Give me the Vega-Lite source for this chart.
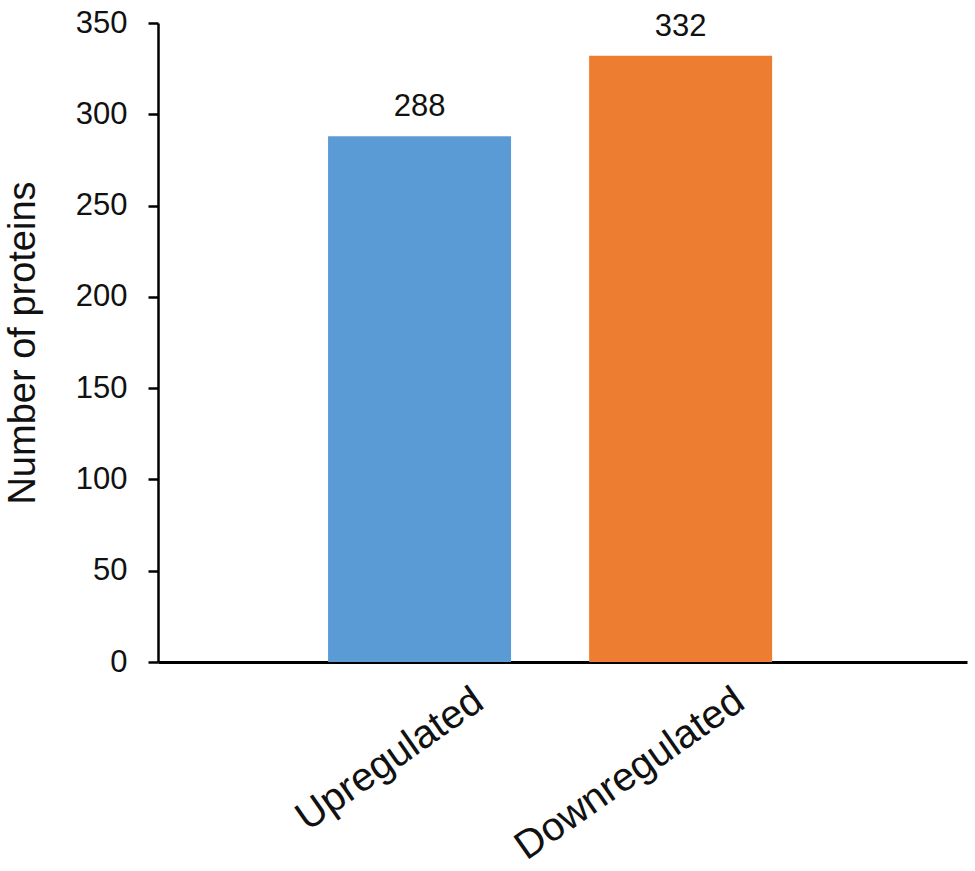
{
  "$schema": "https://vega.github.io/schema/vega-lite/v6.json",
  "autosize": {"type": "none"},
  "width": 809,
  "height": 639,
  "padding": {"left": 158, "top": 23, "right": 8, "bottom": 209},
  "background": "white",
  "config": {
    "view": {"stroke": null},
    "font": "Liberation Sans"
  },
  "data": {
    "values": [
      {"category": "Upregulated", "count": 288},
      {"category": "Downregulated", "count": 332}
    ]
  },
  "encoding": {
    "x": {
      "field": "category",
      "type": "nominal",
      "sort": null,
      "scale": {"paddingInner": 0.299, "paddingOuter": 0.699, "align": 0.466},
      "axis": {
        "title": null,
        "ticks": false,
        "domainColor": "#000000",
        "domainWidth": 3,
        "labelAngle": -35,
        "labelAlign": "right",
        "labelBaseline": "top",
        "labelFont": "Liberation Sans",
        "labelFontSize": 40,
        "labelLimit": 0,
        "labelColor": "#111111",
        "labelPadding": 18,
        "labelOffset": 48
      }
    },
    "y": {
      "field": "count",
      "type": "quantitative",
      "scale": {"domain": [0, 350], "nice": false},
      "axis": {
        "title": "Number of proteins",
        "titleFont": "Liberation Sans",
        "titleFontSize": 38,
        "titleFontWeight": "normal",
        "titleColor": "#111111",
        "titlePadding": 33,
        "values": [0, 50, 100, 150, 200, 250, 300, 350],
        "grid": false,
        "domainColor": "#000000",
        "domainWidth": 2.5,
        "tickColor": "#000000",
        "tickWidth": 2.5,
        "tickSize": 10,
        "labelFont": "Liberation Sans",
        "labelFontSize": 31,
        "labelColor": "#111111",
        "labelPadding": 21
      }
    }
  },
  "layer": [
    {
      "mark": {"type": "bar"},
      "encoding": {
        "color": {
          "field": "category",
          "type": "nominal",
          "scale": {"domain": ["Upregulated", "Downregulated"], "range": ["#5B9BD5", "#ED7D31"]},
          "legend": null
        }
      }
    },
    {
      "mark": {"type": "text", "baseline": "alphabetic", "dy": -20, "fontSize": 31, "font": "Liberation Sans", "color": "#111111"},
      "encoding": {
        "text": {"field": "count", "type": "quantitative"}
      }
    }
  ]
}
